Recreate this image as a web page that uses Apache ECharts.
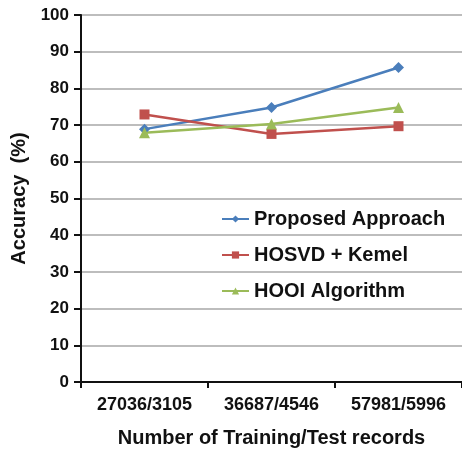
<!DOCTYPE html>
<html><head><meta charset="utf-8">
<script src="https://cdn.jsdelivr.net/npm/echarts@6/dist/echarts.min.js"></script>
<style>html,body{margin:0;padding:0;background:#fff}#c{width:462px;height:450px}</style>
</head><body><div id="c"></div>
<script>
const categories = ['27036/3105', '36687/4546', '57981/5996'];
const seriesNames = ['Proposed Approach', 'HOSVD + Kemel', 'HOOI Algorithm'];
const proposed = [68.9, 74.8, 85.7];
const hosvd = [72.9, 67.6, 69.7];
const hooi = [67.9, 70.3, 74.8];
const yTicks = [0, 10, 20, 30, 40, 50, 60, 70, 80, 90, 100];

const colors = ['#4a7ebb', '#c0504d', '#9bbb59'];
const symbols = ['diamond', 'rect', 'triangle'];
const values = [proposed, hosvd, hooi];
const font = 'Liberation Sans, Arial, sans-serif';

const chart = echarts.init(document.getElementById('c'));
chart.setOption({
  animation: false,
  grid: { left: 81, right: 0, top: 15, bottom: 68, containLabel: false, outerBoundsMode: 'none' },
  legend: {
    orient: 'vertical', left: 216, top: 204, itemGap: 16,
    itemWidth: 27, itemHeight: 9,
    textStyle: { fontFamily: font, fontWeight: 'bold', fontSize: 20, lineHeight: 20, color: '#111' },
    data: seriesNames
  },
  xAxis: {
    type: 'category', data: categories, boundaryGap: true,
    name: 'Number of Training/Test records', nameLocation: 'middle', nameGap: 46,
    nameTextStyle: { fontFamily: font, fontWeight: 'bold', fontSize: 20, color: '#111' },
    axisLine: { lineStyle: { color: '#111', width: 2 } },
    axisTick: { show: true, length: 6, lineStyle: { color: '#111', width: 2 } },
    axisLabel: { fontFamily: font, fontWeight: 'bold', fontSize: 18, color: '#111', margin: 14, interval: 0 }
  },
  yAxis: {
    type: 'value', min: 0, max: 100, interval: 10,
    name: 'Accuracy  (%)', nameLocation: 'middle', nameGap: 44,
    nameTextStyle: { fontFamily: font, fontWeight: 'bold', fontSize: 20, color: '#111' },
    axisLine: { show: true, lineStyle: { color: '#111', width: 2 } },
    axisTick: { show: true, length: 7, lineStyle: { color: '#111', width: 2 } },
    axisLabel: { fontFamily: font, fontWeight: 'bold', fontSize: 17, color: '#111', margin: 12,
      formatter: v => yTicks.includes(v) ? String(v) : '' },
    splitLine: { lineStyle: { color: '#bdbdbd', width: 2 } }
  },
  series: seriesNames.map((n, i) => ({
    name: n, type: 'line', data: values[i],
    symbol: symbols[i], symbolSize: symbols[i] === 'rect' ? 10 : 11,
    itemStyle: { color: colors[i] },
    lineStyle: { color: colors[i], width: 2.5 }
  }))
});
</script></body></html>
